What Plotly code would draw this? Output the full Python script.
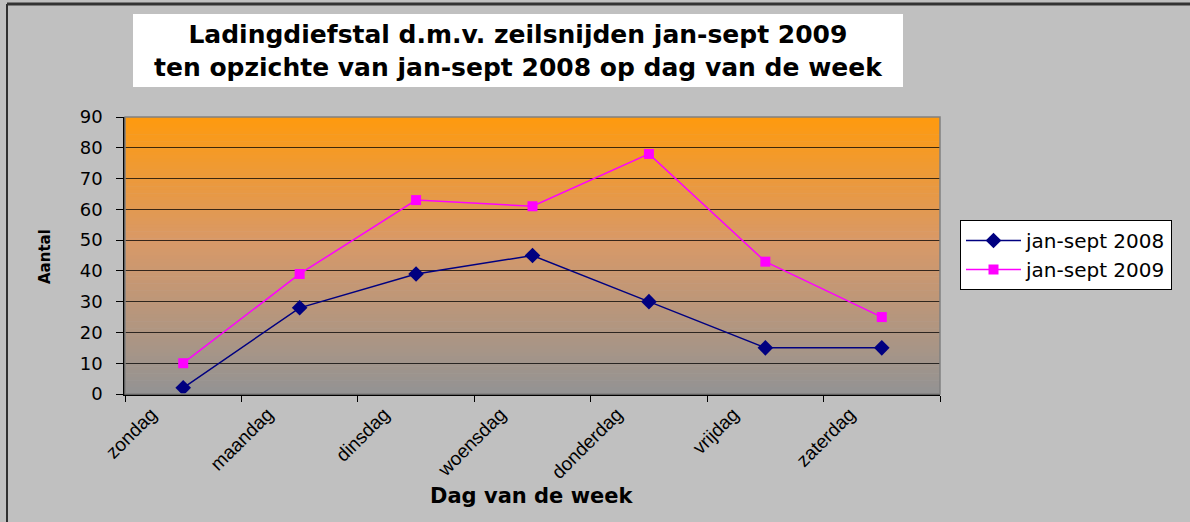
import plotly.graph_objects as go

dagen = ['zondag', 'maandag', 'dinsdag', 'woensdag', 'donderdag', 'vrijdag', 'zaterdag']
jan_sept_2008 = [2, 28, 39, 45, 30, 15, 15]
jan_sept_2009 = [10, 39, 63, 61, 78, 43, 25]

W, H = 1190, 522
L, R, T, B = 125, 250, 117, 128
PW, PH = W - L - R, H - T - B


def px_x(x):
    return (x - L) / PW


def px_y(y):
    return (H - B - y) / PH


fig = go.Figure()
fig.add_trace(go.Scatter(
    x=dagen, y=jan_sept_2008, mode='lines+markers', name='jan-sept 2008',
    line=dict(color='#000080', width=1.5),
    marker=dict(symbol='diamond', size=12, color='#000080')
))
fig.add_trace(go.Scatter(
    x=dagen, y=jan_sept_2009, mode='lines+markers', name='jan-sept 2009',
    line=dict(color='#FF00FF', width=1.5),
    marker=dict(symbol='square', size=10, color='#FF00FF')
))

# gradient achtergrond van het plotvlak (oranje -> grijs)
stops = [(0.0, (255, 154, 14)), (0.45, (216, 153, 104)), (1.0, (147, 147, 147))]


def kleur(t):
    for (t0, c0), (t1, c1) in zip(stops[:-1], stops[1:]):
        if t <= t1:
            f = (t - t0) / (t1 - t0)
            return 'rgb(%d,%d,%d)' % tuple(round(a + (b - a) * f) for a, b in zip(c0, c1))
    return 'rgb(%d,%d,%d)' % stops[-1][1]


n = 80
shapes = []
for i in range(n):
    t = (i + 0.5) / n
    shapes.append(dict(type='rect', xref='paper', yref='paper', x0=0, x1=1,
                       y0=1 - (i + 1) / n - 0.002, y1=1 - i / n,
                       fillcolor=kleur(t), line=dict(width=0), layer='below'))
# rand van plotvlak
shapes.append(dict(type='rect', xref='paper', yref='paper', x0=0, x1=1, y0=0, y1=1,
                   line=dict(color='#808080', width=1.5), layer='above'))
# titelvak
shapes.append(dict(type='rect', xref='paper', yref='paper',
                   x0=px_x(133), x1=px_x(903), y0=px_y(87), y1=px_y(14),
                   fillcolor='white', line=dict(width=0), layer='below'))
# kaderlijnen links en boven
shapes.append(dict(type='line', xref='paper', yref='paper',
                   x0=px_x(7), x1=px_x(7), y0=px_y(H), y1=px_y(4),
                   line=dict(color='black', width=1.5)))
shapes.append(dict(type='line', xref='paper', yref='paper',
                   x0=px_x(7), x1=px_x(W), y0=px_y(4), y1=px_y(4),
                   line=dict(color='#333333', width=3)))

fig.update_layout(
    width=W, height=H,
    margin=dict(l=L, r=R, t=T, b=B),
    paper_bgcolor='#C0C0C0',
    plot_bgcolor='rgba(0,0,0,0)',
    font=dict(family='Liberation Sans, Arial', color='black'),
    shapes=shapes,
    showlegend=True,
    legend=dict(x=px_x(960), y=px_y(255), xanchor='left', yanchor='middle',
                bgcolor='white', bordercolor='black', borderwidth=1,
                font=dict(family='DejaVu Sans', size=20), itemwidth=55,
                tracegroupgap=0),
    annotations=[
        dict(text='Ladingdiefstal d.m.v. zeilsnijden jan-sept 2009<br>ten opzichte van jan-sept 2008 op dag van de week',
             xref='paper', yref='paper', x=px_x(518), y=px_y(51),
             xanchor='center', yanchor='middle', showarrow=False,
             font=dict(family='DejaVu Sans', size=25, weight='bold')),
        dict(text='Aantal', xref='paper', yref='paper', x=px_x(45), y=px_y(257),
             xanchor='center', yanchor='middle', showarrow=False, textangle=-90,
             font=dict(family='DejaVu Sans', size=15, weight='bold')),
        dict(text='Dag van de week', xref='paper', yref='paper', x=px_x(532), y=px_y(496),
             xanchor='center', yanchor='middle', showarrow=False,
             font=dict(family='DejaVu Sans', size=21, weight='bold')),
    ],
)
fig.update_xaxes(
    type='category', range=[-0.5, 6.5], tickson='boundaries',
    ticks='outside', ticklen=6, tickcolor='black',
    showline=True, linecolor='black', linewidth=1.5, showgrid=False,
    tickangle=-45, tickfont=dict(family='Liberation Sans, Arial', size=19),
    ticklabelshift=-32,
)
fig.update_yaxes(
    range=[0, 90], dtick=10, ticks='outside', ticklen=7, tickcolor='black',
    showline=True, linecolor='black', linewidth=1.5,
    showgrid=True, gridcolor='rgba(0,0,0,0.75)', gridwidth=1,
    zeroline=False, tickfont=dict(family='DejaVu Sans', size=18),
    ticklabelstandoff=10,
)
fig.write_html("out.html", config={'displayModeBar': False},
               post_script="document.body.style.margin='0px';")
